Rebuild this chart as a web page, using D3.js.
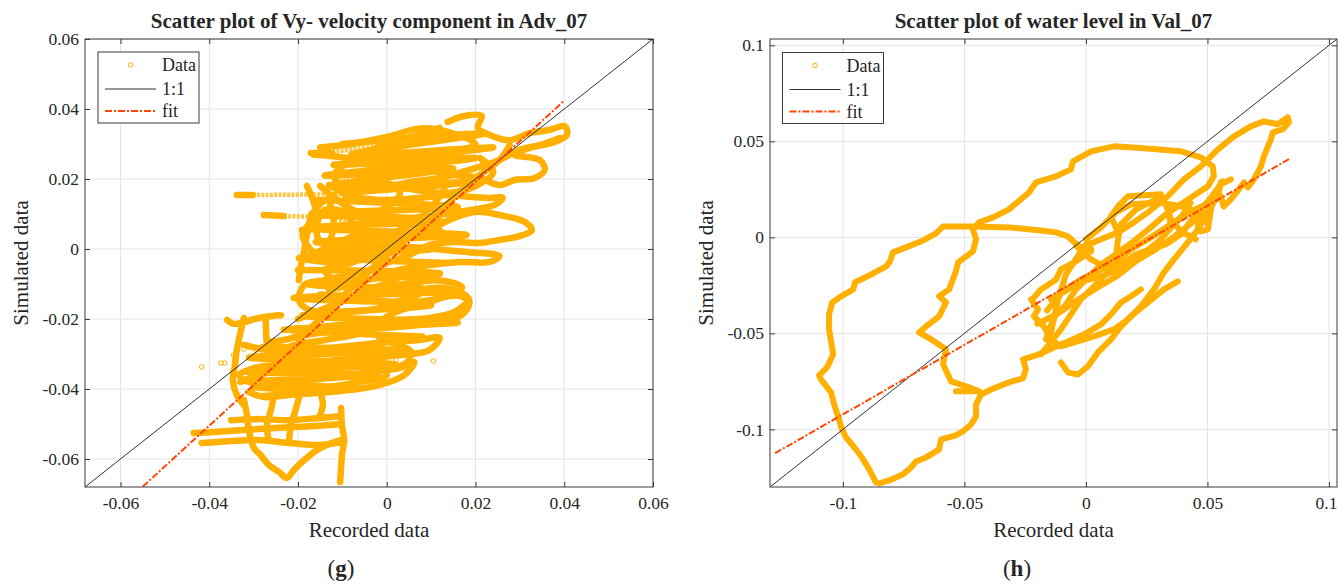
<!DOCTYPE html>
<html>
<head>
<meta charset="utf-8">
<script src="https://cdn.jsdelivr.net/npm/d3@7"></script>
<style>
  body { margin: 0; background: #fff; }
  svg { display: block; }
  text { font-family: "Liberation Serif", "DejaVu Serif", serif; fill: #262626; }
</style>
</head>
<body>
<svg id="chart" width="1338" height="585"></svg>
<script>
// ---------- axis ranges and ticks ----------
const advRange = [-0.068, 0.06];
const advTicks = [-0.06, -0.04, -0.02, 0, 0.02, 0.04, 0.06];
const advTickLabels = ["-0.06", "-0.04", "-0.02", "0", "0.02", "0.04", "0.06"];

const valRange = [-0.13, 0.1033];
const valTicks = [-0.1, -0.05, 0, 0.05, 0.1];
const valTickLabels = ["-0.1", "-0.05", "0", "0.05", "0.1"];

// ---------- linear fits (end points of the fitted line) ----------
const advFitX = [-0.055, 0.04];
const advFitY = [-0.0679, 0.0424];
const valFitX = [-0.1279, 0.0835];
const valFitY = [-0.1124, 0.0407];

const legendLabels = ["Data", "1:1", "fit"];

// ---------- Adv_07: recorded vs simulated Vy (dense marker tracks) ----------
const advTracks = [
  [[0.0137,0.0363],[0.0175,0.0380],[0.0214,0.0380],[0.0205,0.0346],[0.0232,0.0326],[0.0277,0.0311],[0.0322,0.0331],[0.0367,0.0340],[0.0401,0.0351],[0.0406,0.0326],[0.0379,0.0306],[0.0322,0.0289],[0.0288,0.0269],[0.0345,0.0254],[0.0356,0.0226],[0.0333,0.0203],[0.0288,0.0197],[0.0254,0.0183],[0.0209,0.0203],[0.0153,0.0211],[0.0096,0.0226],[0.0051,0.0240],[-0.0017,0.0254],[-0.0085,0.0260],[-0.0130,0.0266],[-0.0164,0.0269]],
  [[0.0119,0.0346],[0.0073,0.0326],[0.0028,0.0311],[-0.0017,0.0291],[-0.0062,0.0269],[-0.0096,0.0240],[-0.0119,0.0211],[-0.0107,0.0183],[-0.0062,0.0169],[-0.0006,0.0174],[0.0051,0.0191],[0.0119,0.0203],[0.0186,0.0226],[0.0254,0.0254],[0.0299,0.0283],[0.0345,0.0297],[0.0390,0.0317]],
  [[-0.0130,0.0183],[-0.0085,0.0154],[-0.0017,0.0140],[0.0073,0.0146],[0.0141,0.0154],[0.0186,0.0149],[0.0232,0.0146],[0.0261,0.0146],[0.0243,0.0126],[0.0186,0.0111],[0.0119,0.0097],[0.0051,0.0089],[-0.0017,0.0097],[-0.0085,0.0106],[-0.0141,0.0111],[-0.0157,0.0069],[-0.0153,0.0026],[-0.0107,-0.0003],[-0.0040,0.0003],[0.0028,0.0026],[0.0096,0.0054],[0.0141,0.0083],[0.0198,0.0106],[0.0266,0.0094],[0.0311,0.0077],[0.0327,0.0054],[0.0299,0.0037],[0.0254,0.0026],[0.0209,0.0017],[0.0153,0.0020],[0.0096,0.0011],[0.0051,-0.0017],[0.0006,-0.0037],[-0.0040,-0.0060],[-0.0085,-0.0074],[-0.0141,-0.0089],[-0.0186,-0.0103],[-0.0198,-0.0146],[-0.0175,-0.0174],[-0.0107,-0.0180],[-0.0040,-0.0174],[0.0028,-0.0160],[0.0096,-0.0146],[0.0164,-0.0134],[0.0186,-0.0154],[0.0168,-0.0189],[0.0119,-0.0209],[0.0051,-0.0220],[-0.0017,-0.0226],[-0.0085,-0.0231],[-0.0153,-0.0240],[-0.0198,-0.0249],[-0.0232,-0.0260],[-0.0266,-0.0266]],
  [[-0.0198,-0.0026],[-0.0130,-0.0037],[-0.0062,-0.0026],[0.0017,-0.0009],[0.0073,0.0003],[0.0130,-0.0003],[0.0186,-0.0009],[0.0254,-0.0020],[0.0232,-0.0037],[0.0164,-0.0037],[0.0096,-0.0046],[0.0028,-0.0060],[-0.0028,-0.0083],[-0.0085,-0.0103],[-0.0130,-0.0117]],
  [[-0.0191,0.0054],[-0.0141,0.0060],[-0.0085,0.0069],[-0.0017,0.0077],[0.0051,0.0069],[0.0119,0.0054],[0.0130,0.0026]],
  [[-0.0198,-0.0260],[-0.0153,-0.0203],[-0.0107,-0.0146],[-0.0062,-0.0089],[-0.0017,-0.0037],[0.0028,0.0011],[0.0073,0.0054],[0.0119,0.0106],[0.0164,0.0163],[0.0209,0.0211],[0.0254,0.0254],[0.0277,0.0297]],
  [[-0.0322,-0.0274],[-0.0266,-0.0289],[-0.0198,-0.0294],[-0.0130,-0.0283],[-0.0062,-0.0274],[0.0006,-0.0266],[0.0073,-0.0260],[0.0119,-0.0254],[0.0096,-0.0289],[0.0028,-0.0303],[-0.0040,-0.0311],[-0.0107,-0.0317],[-0.0175,-0.0323],[-0.0243,-0.0331],[-0.0299,-0.0340],[-0.0333,-0.0360],[-0.0311,-0.0380],[-0.0243,-0.0383],[-0.0175,-0.0374],[-0.0107,-0.0366],[-0.0040,-0.0351],[0.0028,-0.0340],[0.0062,-0.0323],[0.0040,-0.0360],[-0.0017,-0.0389],[-0.0085,-0.0403],[-0.0153,-0.0411],[-0.0220,-0.0417],[-0.0277,-0.0423],[-0.0311,-0.0409]],
  [[-0.0232,-0.0231],[-0.0175,-0.0226],[-0.0107,-0.0217],[-0.0040,-0.0209],[0.0028,-0.0203],[0.0096,-0.0197],[0.0153,-0.0180],[0.0175,-0.0160]],
  [[-0.0322,-0.0197],[-0.0331,-0.0246],[-0.0338,-0.0289],[-0.0342,-0.0331],[-0.0347,-0.0374],[-0.0338,-0.0417],[-0.0322,-0.0446]],
  [[-0.0360,-0.0203],[-0.0345,-0.0214],[-0.0322,-0.0209],[-0.0288,-0.0197],[-0.0238,-0.0189],[-0.0270,-0.0197],[-0.0272,-0.0231],[-0.0270,-0.0274]],
  [[-0.0435,-0.0526],[-0.0390,-0.0523],[-0.0322,-0.0517],[-0.0243,-0.0511],[-0.0164,-0.0506],[-0.0103,-0.0500]],
  [[-0.0417,-0.0554],[-0.0356,-0.0549],[-0.0288,-0.0546],[-0.0220,-0.0554],[-0.0153,-0.0560],[-0.0096,-0.0551]],
  [[-0.0351,-0.0489],[-0.0288,-0.0486],[-0.0220,-0.0489],[-0.0153,-0.0483],[-0.0103,-0.0477]],
  [[-0.0322,-0.0431],[-0.0315,-0.0474],[-0.0311,-0.0517],[-0.0299,-0.0569],[-0.0284,-0.0589],[-0.0266,-0.0617],[-0.0243,-0.0637],[-0.0225,-0.0654],[-0.0209,-0.0631],[-0.0186,-0.0603],[-0.0157,-0.0574],[-0.0130,-0.0557],[-0.0103,-0.0546]],
  [[-0.0103,-0.0454],[-0.0101,-0.0503],[-0.0096,-0.0546],[-0.0101,-0.0589],[-0.0103,-0.0626],[-0.0105,-0.0666]],
  [[-0.0254,-0.0417],[-0.0261,-0.0460],[-0.0270,-0.0503],[-0.0266,-0.0546]],
  [[-0.0198,-0.0426],[-0.0207,-0.0466],[-0.0216,-0.0503],[-0.0220,-0.0546]],
  [[-0.0148,-0.0417],[-0.0144,-0.0446],[-0.0153,-0.0483]],
  [[-0.0119,0.0154],[-0.0153,0.0126],[-0.0171,0.0089],[-0.0180,0.0040],[-0.0186,-0.0003],[-0.0193,-0.0046],[-0.0198,-0.0089]],
  [[0.0073,-0.0117],[0.0119,-0.0111],[0.0164,-0.0123],[0.0186,-0.0146],[0.0175,-0.0174],[0.0141,-0.0197],[0.0096,-0.0211],[0.0051,-0.0211]],
  [[-0.0017,-0.0260],[0.0028,-0.0274],[0.0055,-0.0294],[0.0046,-0.0323],[0.0017,-0.0340],[-0.0017,-0.0346]],
  [[-0.0150,0.0290],[-0.0080,0.0300],[0.0000,0.0320],[0.0080,0.0345],[0.0150,0.0330],[0.0200,0.0300],[0.0160,0.0280],[0.0080,0.0270],[0.0000,0.0235],[-0.0060,0.0215],[-0.0020,0.0190],[0.0060,0.0170],[0.0140,0.0160],[0.0200,0.0180],[0.0240,0.0220],[0.0210,0.0260]],
  [[-0.0150,0.0180],[-0.0100,0.0130],[-0.0050,0.0100],[0.0000,0.0120],[0.0030,0.0160],[0.0000,0.0190],[-0.0060,0.0200],[-0.0090,0.0160],[-0.0080,0.0080],[-0.0030,0.0040],[0.0040,0.0060],[0.0100,0.0120],[0.0130,0.0170]],
  [[-0.0180,-0.0020],[-0.0120,0.0010],[-0.0060,0.0040],[-0.0020,0.0000],[-0.0080,-0.0040],[-0.0140,-0.0060],[-0.0100,-0.0100],[-0.0030,-0.0110],[0.0040,-0.0080],[0.0080,-0.0120],[0.0020,-0.0150],[-0.0060,-0.0140],[-0.0150,-0.0130]],
  [[-0.0200,-0.0200],[-0.0120,-0.0160],[-0.0040,-0.0120],[0.0040,-0.0100],[0.0120,-0.0090],[0.0170,-0.0110],[0.0100,-0.0150],[0.0020,-0.0180],[-0.0060,-0.0240],[-0.0140,-0.0260],[-0.0220,-0.0280],[-0.0160,-0.0300],[-0.0080,-0.0290],[0.0000,-0.0300]],
  [[-0.0330,-0.0380],[-0.0260,-0.0350],[-0.0180,-0.0340],[-0.0100,-0.0330],[-0.0030,-0.0320],[0.0000,-0.0360],[-0.0060,-0.0380],[-0.0140,-0.0395],[-0.0230,-0.0400],[-0.0300,-0.0395]],
  [[-0.0100,0.0300],[0.0220,0.0330],[-0.0080,0.0270],[0.0240,0.0290],[-0.0120,0.0240],[0.0200,0.0260],[-0.0140,0.0210],[0.0150,0.0230],[-0.0130,0.0180],[0.0180,0.0190],[-0.0100,0.0160]],
  [[-0.0160,0.0140],[0.0160,0.0120],[-0.0170,0.0100],[0.0120,0.0080],[-0.0180,0.0060],[0.0180,0.0040],[-0.0160,0.0020],[0.0100,0.0000],[-0.0190,-0.0020],[0.0140,-0.0040]],
  [[-0.0200,-0.0060],[0.0120,-0.0070],[-0.0180,-0.0100],[0.0150,-0.0120],[-0.0210,-0.0140],[0.0100,-0.0160],[-0.0190,-0.0190],[0.0160,-0.0210],[-0.0220,-0.0230],[0.0080,-0.0250]],
  [[-0.0280,-0.0280],[0.0040,-0.0290],[-0.0310,-0.0310],[0.0020,-0.0330],[-0.0320,-0.0350],[-0.0020,-0.0360],[-0.0300,-0.0380],[-0.0080,-0.0400],[-0.0280,-0.0420]],
  [[-0.0180,0.0180],[-0.0160,0.0100],[-0.0190,0.0040],[-0.0150,-0.0020],[-0.0120,0.0060],[-0.0130,0.0140]],
  [[-0.0338,0.0154],[-0.0302,0.0154]],
  [[-0.0277,0.0097],[-0.0232,0.0094]],
  [[-0.0171,0.0274],[-0.0123,0.0274]]
];

// sparse runs of hollow markers where the signal changed quickly
const advStreaks = [
  [[-0.0123,0.0277],[0.0085,0.0309]],
  [[-0.0096,0.0294],[0.0028,0.0317]],
  [[-0.0302,0.0154],[-0.0085,0.0157]],
  [[-0.0232,0.0094],[-0.0119,0.0091],[-0.0085,0.0074]],
  [[-0.0119,0.0197],[-0.0006,0.0206]]
];

// isolated markers
const advMarkers = [
  [-0.0417,-0.0337],[-0.0374,-0.0326],[-0.0365,-0.0326],[-0.0345,-0.0303],[-0.0342,-0.0317],
  [-0.0322,-0.0286],[-0.0311,-0.0280],[-0.0295,-0.0289],[-0.0277,-0.0286],[-0.0243,-0.0283],
  [-0.0003,-0.0320],[0.0010,-0.0334],[0.0021,-0.0317],[0.0033,-0.0337],[0.0044,-0.0346],
  [0.0105,-0.0320],[-0.0049,-0.0294],[-0.0035,-0.0309],[-0.0067,-0.0306]
];

// ---------- Val_07: recorded vs simulated water level ----------
const valTracks = [
  [[-0.0864,-0.1276],[-0.0892,-0.1208],[-0.0917,-0.1156],[-0.0946,-0.1104],[-0.0987,-0.1042],[-0.1007,-0.0990],[-0.1016,-0.0948],[-0.1036,-0.0870],[-0.1049,-0.0807],[-0.1090,-0.0740],[-0.1098,-0.0719],[-0.1065,-0.0677],[-0.1040,-0.0609],[-0.1049,-0.0542],[-0.1057,-0.0479],[-0.1057,-0.0401],[-0.1044,-0.0339],[-0.1007,-0.0307],[-0.0958,-0.0271],[-0.0950,-0.0234],[-0.0876,-0.0188],[-0.0822,-0.0151],[-0.0806,-0.0125],[-0.0794,-0.0078],[-0.0740,-0.0052],[-0.0670,-0.0016],[-0.0617,0.0021],[-0.0588,0.0057],[-0.0465,0.0057],[-0.0317,0.0052],[-0.0185,0.0036],[-0.0123,0.0026],[-0.0074,0.0005],[-0.0033,-0.0042],[0.0021,-0.0073]],
  [[-0.0851,-0.1281],[-0.0810,-0.1266],[-0.0752,-0.1234],[-0.0720,-0.1198],[-0.0699,-0.1167],[-0.0658,-0.1146],[-0.0604,-0.1104],[-0.0596,-0.1052],[-0.0535,-0.1031],[-0.0506,-0.1010],[-0.0473,-0.0974],[-0.0452,-0.0932],[-0.0452,-0.0870],[-0.0432,-0.0818],[-0.0391,-0.0792],[-0.0317,-0.0755],[-0.0259,-0.0734],[-0.0247,-0.0688],[-0.0259,-0.0635],[-0.0206,-0.0615],[-0.0177,-0.0599],[-0.0123,-0.0568],[-0.0062,-0.0536],[0.0000,-0.0500],[0.0062,-0.0453],[0.0103,-0.0401],[0.0144,-0.0339],[0.0185,-0.0307],[0.0226,-0.0271]],
  [[-0.0103,-0.0651],[-0.0074,-0.0703],[-0.0033,-0.0714],[0.0008,-0.0672],[0.0049,-0.0599],[0.0103,-0.0531],[0.0144,-0.0464],[0.0185,-0.0411],[0.0255,-0.0339],[0.0321,-0.0271],[0.0378,-0.0229]],
  [[-0.0226,-0.0323],[-0.0197,-0.0375],[-0.0214,-0.0411],[-0.0173,-0.0464],[-0.0144,-0.0531],[-0.0103,-0.0568],[-0.0049,-0.0547],[0.0033,-0.0516],[0.0115,-0.0479],[0.0173,-0.0427],[0.0226,-0.0359],[0.0280,-0.0271],[0.0321,-0.0182],[0.0362,-0.0115],[0.0419,-0.0026],[0.0461,0.0042],[0.0485,0.0094],[0.0514,0.0161],[0.0543,0.0214],[0.0555,0.0286]],
  [[-0.0144,-0.0495],[-0.0115,-0.0323],[-0.0082,-0.0193],[-0.0008,-0.0047],[0.0062,-0.0010],[0.0132,0.0026],[0.0197,0.0078],[0.0255,0.0130],[0.0337,0.0214],[0.0403,0.0302],[0.0473,0.0370],[0.0543,0.0458],[0.0609,0.0526],[0.0678,0.0578],[0.0732,0.0604],[0.0789,0.0589],[0.0831,0.0625],[0.0835,0.0599],[0.0810,0.0563],[0.0769,0.0547],[0.0761,0.0510],[0.0732,0.0422],[0.0720,0.0370],[0.0691,0.0302],[0.0666,0.0260],[0.0650,0.0286],[0.0629,0.0250],[0.0596,0.0198],[0.0567,0.0161],[0.0555,0.0214],[0.0526,0.0198],[0.0514,0.0146],[0.0502,0.0042],[0.0473,0.0031],[0.0461,0.0057],[0.0485,0.0130]],
  [[-0.0535,-0.0802],[-0.0440,-0.0802],[-0.0481,-0.0781],[-0.0555,-0.0750],[-0.0588,-0.0661],[-0.0576,-0.0583],[-0.0637,-0.0531],[-0.0687,-0.0495],[-0.0658,-0.0464],[-0.0604,-0.0411],[-0.0576,-0.0339],[-0.0604,-0.0307],[-0.0563,-0.0271],[-0.0535,-0.0177],[-0.0526,-0.0130],[-0.0465,-0.0073],[-0.0452,-0.0010],[-0.0465,0.0042],[-0.0440,0.0078],[-0.0382,0.0104],[-0.0317,0.0146],[-0.0234,0.0234],[-0.0206,0.0286],[-0.0123,0.0318],[-0.0062,0.0354],[-0.0053,0.0396],[0.0021,0.0448],[0.0115,0.0474],[0.0238,0.0464],[0.0391,0.0448],[0.0473,0.0417],[0.0522,0.0370],[0.0526,0.0318],[0.0502,0.0266],[0.0452,0.0224],[0.0391,0.0172],[0.0329,0.0120],[0.0267,0.0052],[0.0206,-0.0010],[0.0123,-0.0089],[0.0062,-0.0141],[0.0021,-0.0193],[-0.0041,-0.0271],[-0.0082,-0.0349],[-0.0123,-0.0401],[-0.0152,-0.0479],[-0.0164,-0.0531]],
  [[-0.0185,-0.0609],[-0.0103,-0.0479],[-0.0021,-0.0323],[0.0062,-0.0219],[0.0123,-0.0125],[0.0185,-0.0063],[0.0267,0.0000],[0.0350,0.0068],[0.0432,0.0135],[0.0493,0.0172],[0.0555,0.0276],[0.0596,0.0302]],
  [[-0.0144,-0.0323],[-0.0082,-0.0271],[-0.0021,-0.0219],[0.0062,-0.0167],[0.0123,-0.0104],[0.0132,-0.0010],[0.0144,0.0068],[0.0206,0.0146],[0.0288,0.0198],[0.0329,0.0172],[0.0350,0.0094],[0.0391,0.0031],[0.0452,-0.0010]],
  [[-0.0041,-0.0042],[0.0021,-0.0115],[0.0082,-0.0156],[0.0144,-0.0141],[0.0206,-0.0089],[0.0267,-0.0063],[0.0329,-0.0036],[0.0391,0.0016],[0.0452,0.0120],[0.0514,0.0198],[0.0563,0.0292]],
  [[-0.0214,-0.0313],[-0.0185,-0.0271],[-0.0123,-0.0219],[-0.0103,-0.0167],[-0.0041,-0.0125],[0.0000,-0.0089],[0.0021,-0.0063],[0.0000,-0.0010],[0.0062,0.0052],[0.0123,0.0130],[0.0185,0.0172],[0.0308,0.0182],[0.0411,0.0156],[0.0473,0.0120],[0.0502,0.0068]],
  [[-0.0200,-0.0450],[-0.0120,-0.0400],[-0.0040,-0.0330],[0.0050,-0.0260],[0.0130,-0.0200],[0.0210,-0.0120],[0.0290,-0.0060],[0.0370,0.0010],[0.0440,0.0080],[0.0500,0.0120]],
  [[-0.0160,-0.0380],[-0.0100,-0.0290],[-0.0020,-0.0230],[0.0070,-0.0200],[0.0150,-0.0160],[0.0230,-0.0090],[0.0300,-0.0020],[0.0350,0.0050],[0.0400,0.0120],[0.0430,0.0180]],
  [[0.0132,0.0026],[0.0103,0.0109],[0.0132,0.0161],[0.0173,0.0214],[0.0308,0.0224],[0.0337,0.0146],[0.0350,0.0060]]
];
const valStreaks = [];
const valMarkers = [];

// ---------- drawing ----------
const svg = d3.select("#chart");
const dataColor = "#FFB000";
const fitColor = "#FF4500";
const axisColor = "#3a3a3a";

const panels = [
  { id: "adv", title: "Scatter plot of Vy- velocity component in Adv_07", tag: "g",
    box: [85, 39, 653, 487], range: advRange, ticks: advTicks, labels: advTickLabels,
    tracks: advTracks, streaks: advStreaks, markers: advMarkers, trackWidth: 6.5,
    curve: d3.curveCatmullRom.alpha(0.5),
    fitX: advFitX, fitY: advFitY, legendPos: [98, 52], yLabelX: 21 },
  { id: "val", title: "Scatter plot of water level in Val_07", tag: "h",
    box: [770, 39, 1337, 487], range: valRange, ticks: valTicks, labels: valTickLabels,
    tracks: valTracks, streaks: valStreaks, markers: valMarkers, trackWidth: 6,
    curve: d3.curveLinear,
    fitX: valFitX, fitY: valFitY, legendPos: [782.5, 52.5], yLabelX: 706 }
];

function drawPanel(p) {
  const [L, T, R, B] = p.box;
  const x = d3.scaleLinear().domain(p.range).range([L, R]);
  const y = d3.scaleLinear().domain(p.range).range([B, T]);
  const g = svg.append("g").attr("class", "panel-" + p.id);

  // grid
  g.append("g").selectAll("line").data(p.ticks).join("line")
    .attr("x1", d => x(d)).attr("x2", d => x(d)).attr("y1", T).attr("y2", B)
    .attr("stroke", "#e4e4e4").attr("stroke-width", 1);
  g.append("g").selectAll("line").data(p.ticks).join("line")
    .attr("y1", d => y(d)).attr("y2", d => y(d)).attr("x1", L).attr("x2", R)
    .attr("stroke", "#e4e4e4").attr("stroke-width", 1);

  // clip region for the plotted data
  svg.append("clipPath").attr("id", "clip-" + p.id)
    .append("rect").attr("x", L).attr("y", T).attr("width", R - L).attr("height", B - T);
  const plot = g.append("g").attr("clip-path", `url(#clip-${p.id})`);

  const line = d3.line().x(d => x(d[0])).y(d => y(d[1]));
  const trackLine = d3.line().x(d => x(d[0])).y(d => y(d[1])).curve(p.curve);

  plot.append("g").selectAll("path").data(p.tracks).join("path")
    .attr("d", trackLine).attr("fill", "none").attr("stroke", dataColor)
    .attr("stroke-width", p.trackWidth).attr("stroke-linecap", "round").attr("stroke-linejoin", "round");

  plot.append("g").selectAll("path").data(p.streaks).join("path")
    .attr("d", line).attr("fill", "none").attr("stroke", dataColor)
    .attr("stroke-width", 4.5).attr("stroke-dasharray", "3,1.3").attr("opacity", 0.75);

  plot.append("g").selectAll("circle").data(p.markers).join("circle")
    .attr("cx", d => x(d[0])).attr("cy", d => y(d[1])).attr("r", 2.3)
    .attr("fill", "none").attr("stroke", dataColor).attr("stroke-width", 1);

  // 1:1 line
  plot.append("line")
    .attr("x1", x(p.range[0])).attr("y1", y(p.range[0]))
    .attr("x2", x(p.range[1])).attr("y2", y(p.range[1]))
    .attr("stroke", "#1a1a1a").attr("stroke-width", 0.9);

  // fitted line
  plot.append("path")
    .attr("d", line(p.fitX.map((v, i) => [v, p.fitY[i]])))
    .attr("fill", "none").attr("stroke", fitColor).attr("stroke-width", 2)
    .attr("stroke-dasharray", "7,2,2,2");

  // axes (ticks point inwards on all four sides)
  const fmt = (d, i) => p.labels[i];
  const styleAxis = sel => {
    sel.select(".domain").remove();
    sel.selectAll(".tick line").attr("stroke", axisColor);
    sel.selectAll(".tick text").attr("font-size", 17.5).attr("fill", "#262626");
    sel.attr("font-family", null).attr("font-size", null);
  };
  const bottom = g.append("g").attr("transform", `translate(0,${B})`)
    .call(d3.axisBottom(x).tickValues(p.ticks).tickFormat(fmt).tickSizeInner(-5).tickSizeOuter(0).tickPadding(10))
    .call(styleAxis);
  // keep the last label inside the canvas
  bottom.selectAll(".tick text").filter(d => x(d) + 12 > 1338).attr("dx", -3);
  g.append("g").attr("transform", `translate(${L},0)`)
    .call(d3.axisLeft(y).tickValues(p.ticks).tickFormat(fmt).tickSizeInner(-5).tickSizeOuter(0).tickPadding(6))
    .call(styleAxis);
  g.append("g").attr("transform", `translate(0,${T})`)
    .call(d3.axisTop(x).tickValues(p.ticks).tickFormat("").tickSizeInner(-5).tickSizeOuter(0))
    .call(styleAxis);
  g.append("g").attr("transform", `translate(${R},0)`)
    .call(d3.axisRight(y).tickValues(p.ticks).tickFormat("").tickSizeInner(-5).tickSizeOuter(0))
    .call(styleAxis);

  // frame
  g.append("rect").attr("x", L).attr("y", T).attr("width", R - L).attr("height", B - T)
    .attr("fill", "none").attr("stroke", axisColor).attr("stroke-width", 1);

  // title and axis labels
  const cx = (L + R) / 2;
  g.append("text").attr("x", cx).attr("y", 28).attr("text-anchor", "middle")
    .attr("font-size", 21).attr("font-weight", "bold").text(p.title);
  g.append("text").attr("x", cx).attr("y", 537).attr("text-anchor", "middle")
    .attr("font-size", 21).text("Recorded data");
  g.append("text").attr("transform", `translate(${p.yLabelX},${(T + B) / 2}) rotate(-90)`)
    .attr("text-anchor", "middle").attr("dominant-baseline", "central")
    .attr("font-size", 21).text("Simulated data");

  // panel tag
  const tag = g.append("text").attr("x", p.id === "adv" ? 341 : 1017).attr("y", 576)
    .attr("text-anchor", "middle").attr("font-size", 23).attr("fill", "#000");
  tag.append("tspan").text("(");
  tag.append("tspan").attr("font-weight", "bold").text(p.tag);
  tag.append("tspan").text(")");

  // legend
  const [lx, ly] = p.legendPos;
  const lg = g.append("g").attr("transform", `translate(${lx},${ly})`);
  lg.append("rect").attr("width", 101).attr("height", 71)
    .attr("fill", "#fff").attr("stroke", axisColor).attr("stroke-width", 1);
  const rows = [13, 37, 59];
  lg.append("circle").attr("cx", 32.5).attr("cy", rows[0]).attr("r", 2.3)
    .attr("fill", "none").attr("stroke", dataColor).attr("stroke-width", 1);
  lg.append("line").attr("x1", 7).attr("x2", 58).attr("y1", rows[1]).attr("y2", rows[1])
    .attr("stroke", "#1a1a1a").attr("stroke-width", 0.9);
  lg.append("line").attr("x1", 7).attr("x2", 58).attr("y1", rows[2]).attr("y2", rows[2])
    .attr("stroke", fitColor).attr("stroke-width", 2).attr("stroke-dasharray", "7,2,2,2");
  lg.selectAll("text.lab").data(legendLabels).join("text").attr("class", "lab")
    .attr("x", 64).attr("y", (d, i) => rows[i]).attr("dominant-baseline", "central")
    .attr("font-size", 18).text(d => d);
}

panels.forEach(drawPanel);
</script>
</body>
</html>
